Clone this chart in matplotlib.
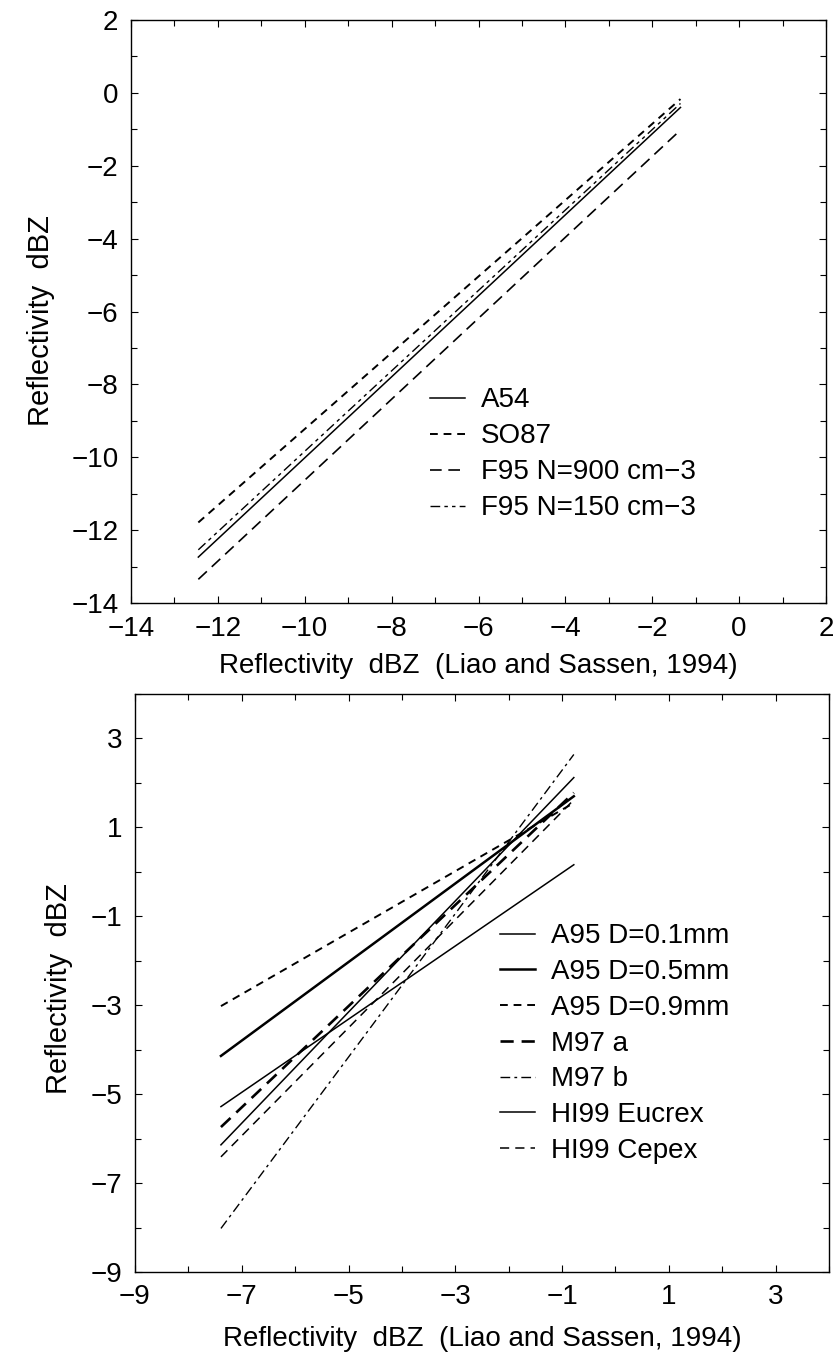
import matplotlib
matplotlib.use("Agg")
import matplotlib.pyplot as plt
from matplotlib.ticker import MultipleLocator

plt.rcParams['font.family'] = ['Liberation Sans', 'DejaVu Sans']

# top panel: dBZ (Liao and Sassen, 1994) vs other relations
top_x = [-12.45, -1.35]
top_names = ['A54', 'SO87', 'F95 N=900 cm\u22123', 'F95 N=150 cm\u22123']
top_y = [
    [-12.74, -0.40],
    [-11.79, -0.17],
    [-13.35, -1.02],
    [-12.54, -0.29],
]

# bottom panel
bot_x = [-7.39, -0.78]
bot_names = ['A95 D=0.1mm', 'A95 D=0.5mm', 'A95 D=0.9mm', 'M97 a', 'M97 b',
             'HI99 Eucrex', 'HI99 Cepex']
bot_y = [
    [-5.28, 0.16],
    [-4.14, 1.70],
    [-3.02, 1.55],
    [-5.74, 1.78],
    [-8.02, 2.64],
    [-6.14, 2.12],
    [-6.41, 1.62],
]

top_styles = [
    dict(ls='-', lw=1.1),
    dict(ls=(0, (4, 3)), lw=1.4),
    dict(ls=(0, (7, 4)), lw=1.2),
    dict(ls=(0, (7, 3, 2.5, 3, 2.5, 3)), lw=1.0),
]
bot_styles = [
    dict(ls='-', lw=1.1),
    dict(ls='-', lw=1.8),
    dict(ls=(0, (4, 3)), lw=1.4),
    dict(ls=(0, (5, 3)), lw=1.9),
    dict(ls=(0, (7, 3, 2, 3)), lw=1.0),
    dict(ls='-', lw=1.1),
    dict(ls=(0, (6, 4)), lw=1.1),
]

fig = plt.figure(figsize=(8.35, 13.53), dpi=100)
W, H = 835, 1353


def box(l, r, t, b):
    return [l / W, 1 - b / H, (r - l) / W, (b - t) / H]


def style_axes(ax, fs):
    ax.tick_params(which='both', direction='in', top=True, right=True,
                   labelsize=fs, pad=9)
    ax.tick_params(which='major', length=5, width=0.8)
    ax.tick_params(which='minor', length=4, width=0.8)
    for s in ax.spines.values():
        s.set_linewidth(1.0)


fs = 20
xlab = 'Reflectivity  dBZ  (Liao and Sassen, 1994)'
ylab = 'Reflectivity  dBZ'

ax1 = fig.add_axes(box(131, 826, 20, 603))
for ys, name, st in zip(top_y, top_names, top_styles):
    ax1.plot(top_x, ys, color='black', label=name, **st)
ax1.set_xlim(-14, 2)
ax1.set_ylim(-14, 2)
ax1.xaxis.set_major_locator(MultipleLocator(2))
ax1.xaxis.set_minor_locator(MultipleLocator(1))
ax1.yaxis.set_major_locator(MultipleLocator(2))
ax1.yaxis.set_minor_locator(MultipleLocator(1))
style_axes(ax1, fs)
ax1.set_xlabel(xlab, fontsize=fs, labelpad=8)
ax1.set_ylabel(ylab, fontsize=21, labelpad=8)
ax1.yaxis.set_label_coords(-0.11, 0.485)
ax1.legend(loc='upper left', bbox_to_anchor=(0.43, 0.37), frameon=False,
           fontsize=fs, handlelength=1.25, handletextpad=0.6, labelspacing=0.36,
           borderpad=0, borderaxespad=0)

ax2 = fig.add_axes(box(135, 829, 694, 1272))
for ys, name, st in zip(bot_y, bot_names, bot_styles):
    ax2.plot(bot_x, ys, color='black', label=name, **st)
ax2.set_xlim(-9, 4)
ax2.set_ylim(-9, 4)
ax2.set_xticks([-9, -7, -5, -3, -1, 1, 3])
ax2.set_yticks([-9, -7, -5, -3, -1, 1, 3])
ax2.xaxis.set_minor_locator(MultipleLocator(1))
ax2.yaxis.set_minor_locator(MultipleLocator(1))
style_axes(ax2, fs)
ax2.set_xlabel(xlab, fontsize=fs, labelpad=11)
ax2.set_ylabel(ylab, fontsize=21, labelpad=8)
ax2.yaxis.set_label_coords(-0.09, 0.49)
ax2.legend(loc='upper left', bbox_to_anchor=(0.526, 0.603), frameon=False,
           fontsize=fs, handlelength=1.25, handletextpad=0.6, labelspacing=0.35,
           borderpad=0, borderaxespad=0)

fig.savefig('out.png', dpi=100)
